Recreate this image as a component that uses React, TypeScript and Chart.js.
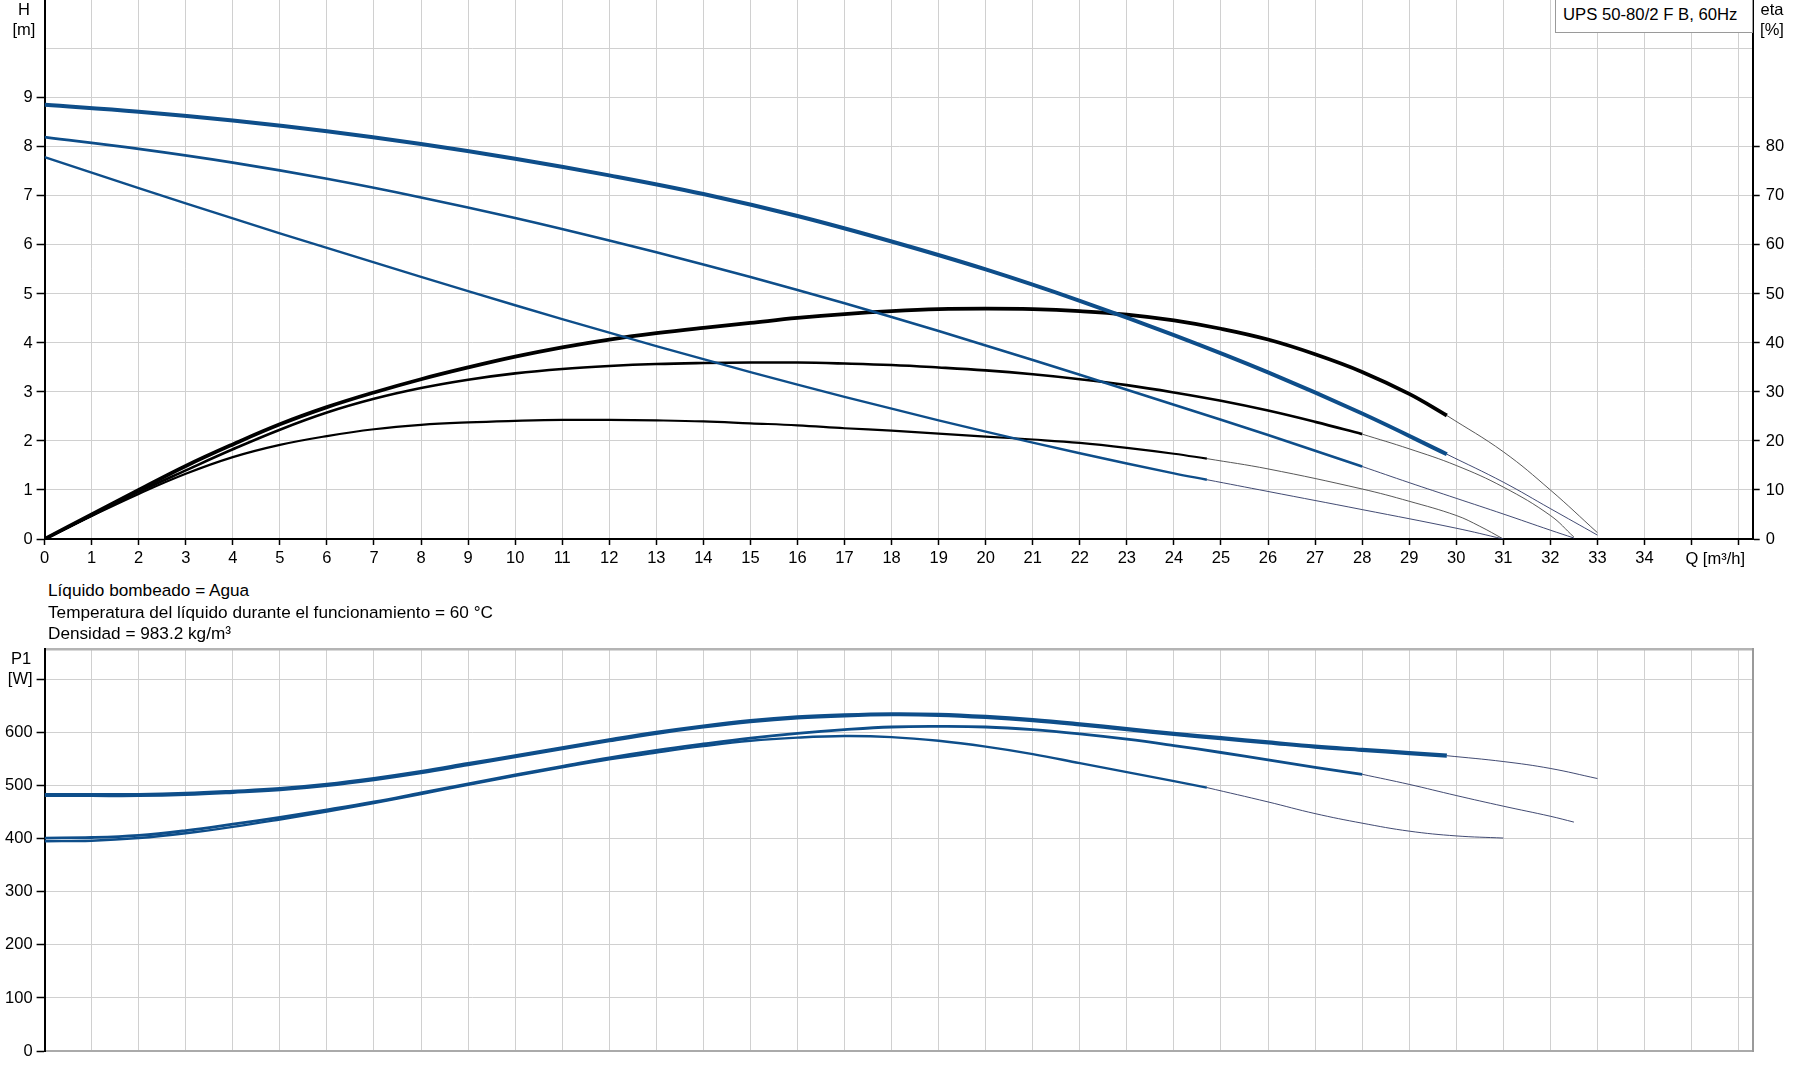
import React, { useEffect, useRef } from 'react';
import { Chart, registerables } from 'chart.js';

Chart.register(...registerables);

// ---------------- fonts / colours ----------------
const FONT_FAMILY = "'Liberation Sans', Arial, Helvetica, sans-serif";
const FONT_SIZE = 16.5;
const INFO_FONT_SIZE = 17.2;
const LEGEND_FONT_SIZE = 16.7;
const BLUE = '#0e4e8a';
const BLACK = '#000000';
const EXT_BLUE = 'rgba(45,55,100,0.9)';
const EXT_GREY = 'rgba(70,70,70,0.9)';
const GRID = '#d0d0d0';

// ---------------- axis ticks ----------------
const Q_TICKS = [0, 1, 2, 3, 4, 5, 6, 7, 8, 9, 10, 11, 12, 13, 14, 15, 16, 17, 18, 19, 20, 21, 22, 23, 24, 25, 26, 27, 28, 29, 30, 31, 32, 33, 34, 35, 36];
const Q_LABELED_MAX = 34;
const Q_AXIS_MAX = 36.3;
const Q_TITLE = 'Q [m³/h]';

const H_TICKS = [0, 1, 2, 3, 4, 5, 6, 7, 8, 9, 10, 11];
const H_LABELED_MAX = 9;
const H_AXIS_MAX = 11;

const ETA_TICKS = [0, 10, 20, 30, 40, 50, 60, 70, 80, 90, 100, 110];
const ETA_LABELED_MAX = 80;
const ETA_AXIS_MAX = 110;

const P1_TICKS = [0, 100, 200, 300, 400, 500, 600, 700];
const P1_TICK_LABELS = ['0', '100', '200', '300', '400', '500', '600', '[W]'];
const P1_AXIS_MAX = 757;

// ---------------- head curves H [m] ----------------
const H3_Q = [0, 2, 4, 6, 8, 10, 12, 14, 16, 18, 20, 22, 24, 26, 28, 29.8];
const H3 = [8.86, 8.72, 8.54, 8.32, 8.06, 7.76, 7.42, 7.04, 6.59, 6.07, 5.5, 4.86, 4.16, 3.4, 2.56, 1.73];
const H3_EXT_Q = [29.8, 31, 32, 33];
const H3_EXT = [1.73, 1.16, 0.62, 0.08];

const H2_Q = [0, 2, 4, 6, 8, 10, 12, 14, 16, 18, 20, 22, 24, 26, 28];
const H2 = [8.2, 7.96, 7.68, 7.35, 6.97, 6.55, 6.09, 5.6, 5.08, 4.53, 3.95, 3.35, 2.74, 2.12, 1.48];
const H2_EXT_Q = [28, 29, 30, 31, 32, 32.5];
const H2_EXT = [1.48, 1.15, 0.83, 0.51, 0.18, 0.02];

const H1_Q = [0, 2, 4, 6, 8, 10, 12, 14, 16, 18, 20, 22, 24, 24.7];
const H1 = [7.79, 7.16, 6.54, 5.94, 5.35, 4.77, 4.21, 3.67, 3.15, 2.66, 2.19, 1.75, 1.34, 1.21];
const H1_EXT_Q = [24.7, 26, 28, 30, 31];
const H1_EXT = [1.21, 0.97, 0.6, 0.22, 0.0];

// ---------------- efficiency curves eta [%] ----------------
const ETA3_Q = [0, 1, 2, 3, 4, 5, 6, 7, 8, 9, 10, 11, 12, 13, 14, 15, 16, 17, 18, 19, 20, 21, 22, 23, 24, 25, 26, 27, 28, 29, 29.8];
const ETA3 = [0, 5.0, 10.0, 14.9, 19.3, 23.4, 26.9, 29.9, 32.6, 35.0, 37.2, 39.1, 40.7, 42.0, 43.1, 44.1, 45.1, 45.9, 46.5, 46.9, 47.0, 46.9, 46.5, 45.8, 44.6, 42.9, 40.7, 37.7, 34.1, 29.6, 25.2];
const ETA3_EXT_Q = [29.8, 31, 32, 33];
const ETA3_EXT = [25.2, 17.8, 10.0, 1.3];

const ETA2_Q = [0, 1, 2, 3, 4, 5, 6, 7, 8, 9, 10, 11, 12, 13, 14, 15, 16, 17, 18, 19, 20, 21, 22, 23, 24, 25, 26, 27, 28];
const ETA2 = [0, 4.8, 9.6, 14.0, 18.3, 22.3, 25.8, 28.6, 30.8, 32.5, 33.8, 34.7, 35.3, 35.7, 35.9, 36.0, 36.0, 35.8, 35.5, 35.0, 34.4, 33.6, 32.6, 31.4, 29.9, 28.2, 26.2, 23.9, 21.4];
const ETA2_EXT_Q = [28, 29, 30, 31, 32, 32.5];
const ETA2_EXT = [21.4, 18.4, 15.0, 10.6, 4.8, 0.4];

const ETA1_Q = [0, 1, 2, 3, 4, 5, 6, 7, 8, 9, 10, 11, 12, 13, 14, 15, 16, 17, 18, 19, 20, 21, 22, 23, 24, 24.7];
const ETA1 = [0, 4.7, 9.2, 13.3, 16.7, 19.2, 21.0, 22.4, 23.3, 23.8, 24.1, 24.3, 24.3, 24.2, 24.0, 23.6, 23.2, 22.6, 22.1, 21.5, 20.9, 20.3, 19.6, 18.6, 17.4, 16.4];
const ETA1_EXT_Q = [24.7, 26, 28, 29, 30, 30.5, 31];
const ETA1_EXT = [16.4, 14.3, 10.2, 7.7, 4.8, 2.6, 0];

// ---------------- power curves P1 [W] ----------------
const P3_Q = [0, 1, 2, 3, 4, 5, 6, 7, 8, 9, 10, 11, 12, 13, 14, 15, 16, 17, 18, 19, 20, 21, 22, 23, 24, 25, 26, 27, 28, 29, 29.8];
const P3 = [482, 482, 482, 484, 488, 493, 501, 512, 525, 540, 555, 570, 585, 599, 611, 621, 628, 632, 634, 633, 629, 623, 615, 606, 597, 589, 581, 573, 567, 561, 556];
const P3_EXT_Q = [29.8, 31, 32, 33];
const P3_EXT = [556, 545, 532, 513];

const P2_Q = [0, 1, 2, 3, 4, 5, 6, 7, 8, 9, 10, 11, 12, 13, 14, 15, 16, 17, 18, 19, 20, 21, 22, 23, 24, 25, 26, 27, 28];
const P2 = [401, 402, 406, 415, 427, 440, 454, 469, 486, 503, 520, 536, 552, 566, 578, 589, 598, 605, 610, 611, 610, 605, 597, 587, 575, 562, 548, 534, 521];
const P2_EXT_Q = [28, 29, 30, 31, 32, 32.5];
const P2_EXT = [521, 502, 481, 461, 442, 431];

const P1_Q = [0, 1, 2, 3, 4, 5, 6, 7, 8, 9, 10, 11, 12, 13, 14, 15, 16, 17, 18, 19, 20, 21, 22, 23, 24, 24.7];
const P1 = [395, 396, 401, 410, 422, 436, 451, 467, 484, 501, 518, 534, 549, 562, 574, 584, 590, 593, 591, 584, 573, 559, 542, 525, 508, 496];
const P1_EXT_Q = [24.7, 26, 27, 28, 29, 30, 31];
const P1_EXT = [496, 469, 447, 429, 414, 405, 401];

// ---------------- texts ----------------
const LEGEND_TEXT = 'UPS 50-80/2 F B, 60Hz';
const INFO_LINES = [
  'Líquido bombeado = Agua',
  'Temperatura del líquido durante el funcionamiento = 60 °C',
  'Densidad = 983.2 kg/m³',
];

// ---------------- layout (page px) ----------------
const PAGE_W = 1795;
const PAGE_H = 1081;
const PLOT_LEFT = 44.6;
const PLOT_RIGHT = 1752.7;
const TOP_PLOT = { left: PLOT_LEFT, right: PLOT_RIGHT, top: 0, bottom: 539.2 };
const BOTTOM_PLOT = { left: PLOT_LEFT, right: PLOT_RIGHT, top: 649, bottom: 1051.4 };

const font = { family: FONT_FAMILY, size: FONT_SIZE };

function series(q: number[], v: number[], axis: string, color: string, width: number) {
  return {
    data: q.map((x, i) => ({ x, y: v[i] })),
    yAxisID: axis,
    borderColor: color,
    backgroundColor: color,
    borderWidth: width,
    pointRadius: 0,
    fill: false,
    tension: 0.4,
    borderCapStyle: 'butt',
    borderJoinStyle: 'round',
  };
}

const setTicks = (list: number[]) => (s: any) => {
  s.ticks = list.map((value) => ({ value }));
};

const tickColorUpTo = (limit: number) => (ctx: any) =>
  ctx.tick && ctx.tick.value <= limit ? '#000' : 'rgba(0,0,0,0)';

function topConfig(): any {
  return {
    type: 'line',
    data: {
      datasets: [
        series(H3_Q, H3, 'yH', BLUE, 4),
        series(H2_Q, H2, 'yH', BLUE, 2.6),
        series(H1_Q, H1, 'yH', BLUE, 2.4),
        series(ETA3_Q, ETA3, 'yEta', BLACK, 3.8),
        series(ETA2_Q, ETA2, 'yEta', BLACK, 2.6),
        series(ETA1_Q, ETA1, 'yEta', BLACK, 2.2),
        series(H3_EXT_Q, H3_EXT, 'yH', EXT_BLUE, 1),
        series(H2_EXT_Q, H2_EXT, 'yH', EXT_BLUE, 1),
        series(H1_EXT_Q, H1_EXT, 'yH', EXT_BLUE, 1),
        series(ETA3_EXT_Q, ETA3_EXT, 'yEta', EXT_GREY, 1),
        series(ETA2_EXT_Q, ETA2_EXT, 'yEta', EXT_GREY, 1),
        series(ETA1_EXT_Q, ETA1_EXT, 'yEta', EXT_GREY, 1),
      ],
    },
    options: {
      animation: false,
      responsive: false,
      devicePixelRatio: 1,
      events: [],
      layout: { padding: 0 },
      plugins: { legend: { display: false }, tooltip: { enabled: false }, title: { display: false } },
      scales: {
        x: {
          type: 'linear',
          bounds: 'data',
          min: 0,
          max: Q_AXIS_MAX,
          afterBuildTicks: setTicks(Q_TICKS),
          ticks: {
            autoSkip: false,
            maxRotation: 0,
            minRotation: 0,
            padding: 4,
            color: '#000',
            font,
            callback: (v: number) => (v <= Q_LABELED_MAX ? String(v) : ''),
          },
          grid: { color: GRID, lineWidth: 1, tickLength: 6, tickColor: '#000', tickWidth: 1.5 },
          border: { color: '#000', width: 2 },
          afterFit: (s: any) => {
            s.height = 32;
          },
        },
        yH: {
          type: 'linear',
          position: 'left',
          bounds: 'data',
          min: 0,
          max: H_AXIS_MAX,
          afterBuildTicks: setTicks(H_TICKS),
          ticks: {
            padding: 4,
            color: '#000',
            font,
            callback: (v: number) => (v <= H_LABELED_MAX ? String(v) : ''),
          },
          grid: { color: GRID, lineWidth: 1, tickLength: 8, tickWidth: 1.5, tickColor: tickColorUpTo(H_LABELED_MAX) },
          border: { color: '#000', width: 2 },
          afterFit: (s: any) => {
            s.width = PLOT_LEFT;
          },
        },
        yEta: {
          type: 'linear',
          position: 'right',
          bounds: 'data',
          min: 0,
          max: ETA_AXIS_MAX,
          afterBuildTicks: setTicks(ETA_TICKS),
          ticks: {
            padding: 6,
            color: '#000',
            font,
            callback: (v: number) => (v <= ETA_LABELED_MAX ? String(v) : ''),
          },
          grid: { drawOnChartArea: false, tickLength: 7, tickWidth: 1.5, tickColor: tickColorUpTo(ETA_LABELED_MAX) },
          border: { color: '#000', width: 2 },
          afterFit: (s: any) => {
            s.width = PAGE_W - PLOT_RIGHT;
          },
        },
      },
    },
  };
}

function bottomConfig(): any {
  return {
    type: 'line',
    data: {
      datasets: [
        series(P3_Q, P3, 'yP', BLUE, 4.2),
        series(P2_Q, P2, 'yP', BLUE, 2.8),
        series(P1_Q, P1, 'yP', BLUE, 2.4),
        series(P3_EXT_Q, P3_EXT, 'yP', EXT_BLUE, 1),
        series(P2_EXT_Q, P2_EXT, 'yP', EXT_BLUE, 1),
        series(P1_EXT_Q, P1_EXT, 'yP', EXT_BLUE, 1),
      ],
    },
    options: {
      animation: false,
      responsive: false,
      devicePixelRatio: 1,
      events: [],
      layout: { padding: 0 },
      plugins: { legend: { display: false }, tooltip: { enabled: false }, title: { display: false } },
      scales: {
        x: {
          type: 'linear',
          bounds: 'data',
          min: 0,
          max: Q_AXIS_MAX,
          afterBuildTicks: setTicks(Q_TICKS),
          ticks: { display: false },
          grid: { color: GRID, lineWidth: 1, drawTicks: false },
          border: { color: '#aaaaaa', width: 2 },
          afterFit: (s: any) => {
            s.height = 1;
          },
        },
        yP: {
          type: 'linear',
          position: 'left',
          bounds: 'data',
          min: 0,
          max: P1_AXIS_MAX,
          afterBuildTicks: setTicks([...P1_TICKS, P1_AXIS_MAX]),
          ticks: {
            padding: 4,
            color: '#000',
            font,
            callback: (v: number) => {
              const i = P1_TICKS.indexOf(v);
              return i >= 0 ? P1_TICK_LABELS[i] : '';
            },
          },
          grid: {
            color: (ctx: any) => (ctx.tick && ctx.tick.value === P1_AXIS_MAX ? '#b4b4b4' : GRID),
            lineWidth: (ctx: any) => (ctx.tick && ctx.tick.value === P1_AXIS_MAX ? 2.5 : 1),
            tickLength: 8,
            tickWidth: 1.5,
            tickColor: tickColorUpTo(700),
          },
          border: { color: '#000', width: 2 },
          afterFit: (s: any) => {
            s.width = PLOT_LEFT;
          },
        },
        yR: {
          type: 'linear',
          position: 'right',
          min: 0,
          max: P1_AXIS_MAX,
          ticks: { display: false },
          grid: { drawOnChartArea: false, drawTicks: false },
          border: { color: '#9a9a9a', width: 2 },
          afterFit: (s: any) => {
            s.width = PAGE_W - PLOT_RIGHT;
          },
        },
      },
    },
  };
}

type Target = { left: number; right: number; top: number; bottom: number };

function ChartBlock({ makeConfig, target }: { makeConfig: () => any; target: Target }) {
  const wrapRef = useRef<HTMLDivElement>(null);
  const canvasRef = useRef<HTMLCanvasElement>(null);

  useEffect(() => {
    const wrap = wrapRef.current!;
    const canvas = canvasRef.current!;
    const wantH = target.bottom - target.top;
    const build = (h: number) => {
      canvas.width = PAGE_W;
      canvas.height = h;
      canvas.style.width = `${PAGE_W}px`;
      canvas.style.height = `${h}px`;
      return new Chart(canvas, makeConfig());
    };
    let h = Math.round(wantH + 60);
    let chart = build(h);
    const a = chart.chartArea;
    const diff = wantH - (a.bottom - a.top);
    if (Math.abs(diff) > 0.3) {
      chart.destroy();
      h = Math.round(h + diff);
      chart = build(h);
    }
    const b = chart.chartArea;
    wrap.style.left = `${target.left - b.left}px`;
    wrap.style.top = `${target.top - b.top}px`;
    return () => chart.destroy();
  }, []);

  return (
    <div ref={wrapRef} style={{ position: 'absolute', left: 0, top: 0 }}>
      <canvas ref={canvasRef} style={{ display: 'block' }} />
    </div>
  );
}

function Label({
  x,
  y,
  text,
  align = 'center',
  size = FONT_SIZE,
}: {
  x: number;
  y: number;
  text: string;
  align?: 'left' | 'center' | 'right';
  size?: number;
}) {
  const shift = align === 'center' ? 'translateX(-50%)' : align === 'right' ? 'translateX(-100%)' : 'none';
  return (
    <div
      style={{
        position: 'absolute',
        left: x,
        top: y - 10,
        height: 20,
        lineHeight: '20px',
        fontFamily: FONT_FAMILY,
        fontSize: size,
        color: '#000',
        whiteSpace: 'nowrap',
        transform: shift,
      }}
    >
      {text}
    </div>
  );
}

export default function App() {
  return (
    <div
      style={{
        position: 'fixed',
        left: 0,
        top: 0,
        width: PAGE_W,
        height: PAGE_H,
        overflow: 'hidden',
        background: '#ffffff',
      }}
    >
      <ChartBlock makeConfig={topConfig} target={TOP_PLOT} />
      <ChartBlock makeConfig={bottomConfig} target={BOTTOM_PLOT} />

      <Label x={24} y={9} text="H" />
      <Label x={24} y={29} text="[m]" />
      <Label x={1772} y={9} text="eta" />
      <Label x={1772} y={29} text="[%]" />
      <Label x={1745} y={558} text={Q_TITLE} align="right" />

      {INFO_LINES.map((t, i) => (
        <Label key={t} x={48} y={590 + i * 21.6} text={t} align="left" size={INFO_FONT_SIZE} />
      ))}

      <Label x={21} y={658} text="P1" />

      <div
        style={{
          position: 'absolute',
          left: 1555,
          top: -1,
          width: PLOT_RIGHT - 1555,
          height: 34,
          boxSizing: 'border-box',
          border: '1px solid #9a9a9a',
          background: '#ffffff',
          fontFamily: FONT_FAMILY,
          fontSize: LEGEND_FONT_SIZE,
          lineHeight: '30px',
          paddingLeft: 7,
          whiteSpace: 'nowrap',
          color: '#000',
        }}
      >
        {LEGEND_TEXT}
      </div>
    </div>
  );
}
